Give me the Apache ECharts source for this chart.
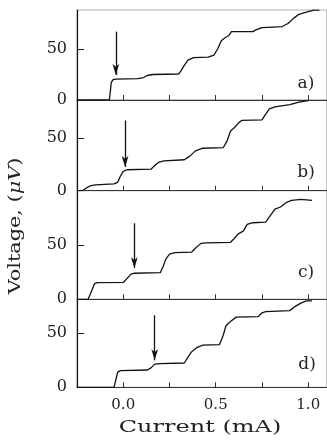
<!DOCTYPE html>
<html>
<head>
<meta charset="utf-8">
<script src="https://cdn.jsdelivr.net/npm/echarts@6/dist/echarts.min.js"></script>
<style>html,body{margin:0;padding:0;background:#fff}#c{width:327px;height:441px}</style>
</head>
<body>
<div id="c"></div>
<script>
// ---- data (Current in mA, Voltage in µV) ----
const currentA = [-0.25,-0.075,-0.07,-0.065,-0.055,-0.04,0.08,0.11,0.13,0.16,0.30,0.31,0.33,0.35,0.38,0.46,0.49,0.51,0.53,0.55,0.57,0.585,0.70,0.72,0.75,0.86,0.89,0.92,0.95,0.99,1.03,1.06];
const voltageA = [0,0,8,17,20,20.5,21,22,24,25,25.5,28,34,39,41.5,42,44,50,58,61,63,67,67,69,71,72,75,80,84,86,88,88];

const currentB = [-0.25,-0.22,-0.2,-0.18,-0.15,-0.05,-0.03,-0.015,0.0,0.02,0.15,0.17,0.19,0.22,0.33,0.36,0.39,0.43,0.54,0.56,0.58,0.60,0.62,0.64,0.75,0.77,0.79,0.82,0.9,0.95,1.0];
const voltageB = [0,0,2.5,4.5,5.5,6.5,8,14,18.5,20,20.5,24,27,28.5,29.5,33,38,40.5,41,47,57,60,64,67,67.5,73,78,80,82,84.5,86];

const currentC = [-0.25,-0.19,-0.17,-0.155,-0.14,0.0,0.02,0.04,0.06,0.2,0.215,0.23,0.25,0.28,0.37,0.39,0.42,0.45,0.58,0.6,0.62,0.65,0.67,0.7,0.77,0.79,0.82,0.85,0.88,0.91,0.96,1.02];
const voltageC = [0,0,8,14.5,15.3,15.5,19,23,24,24.5,30,37,41.5,43,43.5,47,51.5,52,52.5,56,60,63,69,70.5,71,76,83,85,89,91,92,91];

const currentD = [-0.25,-0.05,-0.04,-0.03,-0.015,0.13,0.15,0.17,0.2,0.33,0.35,0.37,0.40,0.43,0.52,0.54,0.555,0.58,0.61,0.73,0.75,0.77,0.9,0.93,0.96,0.99,1.02];
const voltageD = [0,0,7,14,15.5,16,18,21.5,22,22.5,28,33,37,39,39.5,48,57,61,65,65.5,69,70,71,75,78,80,80];

// arrow markers: [current, top voltage, tip voltage]
const arrowA = [-0.04, 67, 24.5];
const arrowB = [0.01, 67, 22.6];
const arrowC = [0.06, 70, 28.7];
const arrowD = [0.17, 66.7, 25];

const panelLabels = ['a)', 'b)', 'c)', 'd)'];
const yMax = [88.2, 86.5, 100, 81.5];
const xTickLabels = [0, 0.5, 1.0];
const yTickLabels = [0, 50];

// ---- layout ----
const grids = [
  {top: 10, height: 90},
  {top: 100, height: 90.7},
  {top: 190.7, height: 108.6},
  {top: 299.3, height: 88}
];
const panels = [
  [currentA, voltageA, arrowA],
  [currentB, voltageB, arrowB],
  [currentC, voltageC, arrowC],
  [currentD, voltageD, arrowD]
];
const labelPos = [[306, 84], [306, 173], [306, 273], [307, 365]];

const FONT = 'DejaVu Serif';
const option = {
  animation: false,
  backgroundColor: '#fff',
  grid: grids.map(g => ({left: 77, width: 249.75, top: g.top, height: g.height,
    show: true, borderColor: '#b0b0b0', borderWidth: 1, backgroundColor: 'transparent'})),
  xAxis: grids.map((g, i) => ({
    type: 'value', gridIndex: i, min: -0.25, max: 1.1, interval: 0.25,
    axisLine: {show: true, onZero: false, lineStyle: {color: '#333', width: 1}},
    axisTick: {show: true, inside: true, length: 5, lineStyle: {color: '#333'},
      customValues: [0, 0.25, 0.5, 0.75, 1.0]},
    axisLabel: {show: i === 3, customValues: xTickLabels, margin: 10,
      fontFamily: FONT, fontSize: 15, color: '#222',
      formatter: v => v.toFixed(1)},
    splitLine: {show: false}
  })),
  yAxis: grids.map((g, i) => ({
    type: 'value', gridIndex: i, min: 0, max: yMax[i], interval: 50,
    axisLine: {show: true, onZero: false, lineStyle: {color: '#111', width: 1.2}},
    axisTick: {show: true, inside: true, length: 7, lineStyle: {color: '#222'},
      customValues: yTickLabels},
    axisLabel: {show: true, customValues: yTickLabels, margin: 10,
      fontFamily: FONT, fontSize: 16, color: '#222'},
    splitLine: {show: false}
  })),
  series: panels.map((p, i) => ({
    type: 'line', xAxisIndex: i, yAxisIndex: i, showSymbol: false, silent: true,
    lineStyle: {color: '#111', width: 1.3},
    data: p[0].map((x, k) => [x, p[1][k]]),
    markLine: {
      silent: true, symbol: ['none', 'arrow'], symbolSize: [5, 11],
      label: {show: false},
      lineStyle: {color: '#111', width: 1.3, type: 'solid'},
      emphasis: {disabled: true},
      data: [[{coord: [p[2][0], p[2][1]]}, {coord: [p[2][0], p[2][2]]}]]
    }
  })),
  graphic: [
    {type: 'text', x: 200, y: 428, scaleX: 1.5,
      style: {text: 'Current (mA)', font: '16px "DejaVu Serif"', fill: '#222',
        textAlign: 'center', textVerticalAlign: 'middle'}},
    {type: 'text', x: 16, y: 226, rotation: Math.PI / 2, scaleX: 1.3,
      style: {text: '{n|Voltage, (}{i|μV}{n|)}', fill: '#222',
        textAlign: 'center', textVerticalAlign: 'middle',
        rich: {n: {fontFamily: FONT, fontSize: 16, fill: '#222'},
               i: {fontFamily: FONT, fontSize: 16, fontStyle: 'italic', fill: '#222'}}}}
  ].concat(panelLabels.map((t, i) => ({
    type: 'text', x: labelPos[i][0], y: labelPos[i][1],
    style: {text: t, font: '17px "DejaVu Serif"', fill: '#222',
      textAlign: 'center', textVerticalAlign: 'middle'}
  })))
};
const chart = echarts.init(document.getElementById('c'), null, {renderer: 'canvas'});
chart.setOption(option);
</script>
</body>
</html>
